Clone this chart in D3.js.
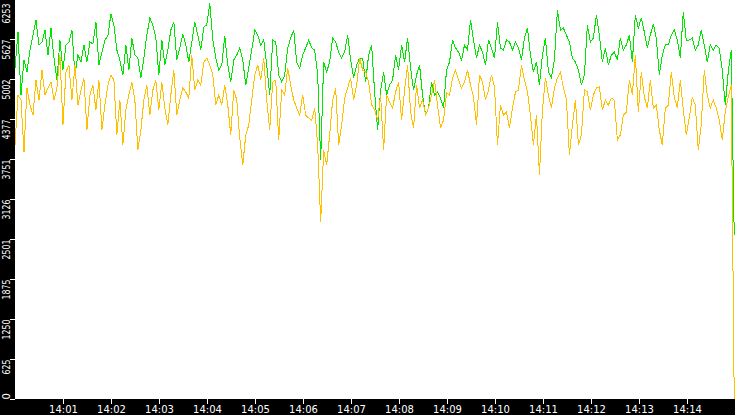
<!DOCTYPE html>
<html>
<head>
<meta charset="utf-8">
<script src="https://cdn.jsdelivr.net/npm/d3@7"></script>
<style>
  body { margin: 0; background: #fff; overflow: hidden; }
  svg { display: block; }
  .axis text { fill: #fff; font-family: "DejaVu Sans", sans-serif; font-size: 10px; }
  .axis line { stroke: #fff; }
  .axis path { display: none; }
</style>
</head>
<body>
<div id="chart"></div>
<script>
// Samples, one every ~3.75 s from 14:00 to 14:15
const green = [
  5174, 5737, 4752, 5299, 5112, 5455, 5690, 5924, 5534, 5581, 5768, 5377, 5799, 5330, 4987, 5612, 5143, 5534, 5581, 5768,
  5065, 5377, 5268, 5534, 5268, 5581, 5549, 5893, 5221, 5424, 5612, 5674, 6018, 5846, 5455, 5299, 5065, 5534, 5143, 5643,
  5377, 5330, 5018, 5330, 5690, 5956, 5846, 5643, 5065, 5612, 5221, 5455, 5768, 5893, 5299, 5487, 5706, 5534, 5268, 5581,
  5893, 5690, 5455, 5815, 5846, 6190, 5612, 5330, 5143, 5221, 5674, 5221, 4955, 5299, 5377, 5487, 5299, 4908, 5174, 5455,
  5768, 5690, 5534, 5612, 5221, 4752, 5612, 5581, 5065, 4955, 5065, 5487, 5643, 5768, 5268, 5174, 5377, 5487, 5612, 5487,
  5455, 5065, 3736, 5268, 5112, 5268, 5643, 5581, 5424, 5330, 5424, 5690, 5299, 5018, 5221, 5330, 5330, 4955, 5377, 5534,
  4799, 4205, 4830, 5112, 4752, 4908, 4987, 5377, 5143, 5534, 5268, 5643, 5174, 4830, 5065, 5221, 4752, 4439, 4549, 4955,
  4752, 4799, 4705, 4549, 5143, 5268, 5612, 5487, 5424, 5299, 5534, 5455, 5924, 5612, 5330, 5534, 5424, 5221, 5612, 5487,
  5330, 5893, 5487, 5455, 5612, 5581, 5455, 5581, 5487, 5299, 5643, 5799, 5377, 5112, 5268, 4908, 5377, 5643, 5112, 5018,
  5299, 6081, 5768, 5799, 5690, 5581, 5330, 5268, 5143, 4908, 5065, 5846, 5581, 5643, 6003, 5690, 5268, 5487, 5221, 5377,
  5424, 5299, 5643, 5455, 5534, 5690, 5268, 6003, 5799, 5956, 5737, 5487, 5690, 5862, 5643, 5065, 5377, 5534, 5534, 5690,
  5768, 5612, 5330, 6049, 5612, 5612, 5643, 5455, 5534, 5768, 5534, 5268, 5534, 5455, 5534, 5487, 5143, 4596, 5112, 5455,
  2564
];

const orange = [
  3971, 4752, 4674, 3861, 4862, 4596, 4439, 4987, 4674, 5143, 4752, 4862, 4955, 4674, 4862, 5377, 4283, 5112, 5221, 4674,
  5221, 4596, 4830, 5018, 4205, 4752, 4908, 4518, 4987, 4205, 4596, 4908, 5065, 4987, 4127, 4674, 3971, 4518, 4752, 4955,
  4674, 3892, 4205, 4674, 4908, 4439, 4830, 4987, 4518, 4955, 4549, 4283, 4752, 5143, 4439, 4674, 4862, 4799, 4705, 5377,
  4830, 4987, 4908, 5268, 5330, 5221, 5065, 4596, 4752, 4596, 4908, 4596, 4127, 4830, 4674, 4080, 3658, 4127, 4283, 4674,
  5065, 5221, 4987, 5330, 4674, 4205, 4955, 4987, 4049, 4830, 4752, 5174, 4908, 4674, 4549, 4439, 4752, 4439, 4393, 4361,
  4549, 3971, 2767, 3892, 3658, 4127, 4674, 4862, 3971, 4283, 4705, 4862, 5018, 4674, 4908, 5330, 5143, 5112, 4955, 4596,
  4518, 4361, 4752, 3892, 4752, 4643, 4549, 4799, 4955, 4361, 4830, 5221, 4486, 4236, 4908, 4549, 4674, 4439, 4549, 4752,
  4987, 4596, 4236, 4361, 4783, 4752, 5018, 5143, 4987, 4862, 4955, 5143, 4908, 4721, 4283, 5065, 4955, 4674, 4830, 5065,
  4877, 3971, 4596, 4439, 4486, 4236, 4549, 4799, 4830, 5221, 4987, 4799, 4439, 3971, 4439, 3502, 4518, 5018, 4752, 4549,
  4862, 5018, 5112, 4862, 4674, 3814, 4283, 4674, 3971, 4127, 4830, 4799, 4518, 4752, 4862, 4877, 4518, 4674, 4596, 4705,
  4674, 4049, 4127, 4439, 4486, 4987, 4752, 5377, 4486, 5112, 4721, 4549, 4987, 4549, 4596, 4205, 3971, 4549, 4596, 5112,
  4721, 4549, 4987, 4518, 4127, 4393, 4721, 4596, 3892, 4283, 5143, 4752, 4549, 4674, 4549, 4361, 4049, 4486, 4721, 4908,
  0
];

// Y tick values (labels are these rounded down)
const yTickValues = [0, 625.3, 1250.6, 1875.9, 2501.2, 3126.5, 3751.8, 4377.1, 5002.4, 5627.7, 6253];

const width = 735, height = 415;
const margin = { left: 15, bottom: 16 };
const start = new Date(2020, 0, 1, 14, 0, 0),
      end = new Date(2020, 0, 1, 14, 15, 0);
const stepMs = 3746;

let svg = d3.select("#chart").append("svg")
    .attr("width", width)
    .attr("height", height);

// Scales
let x = d3.scaleTime()
    .domain([start, end])
    .range([margin.left, width]);

let y = d3.scaleLinear()
    .domain([0, 6253])
    .range([height - margin.bottom, -1]);

// Black axis strips
svg.append("rect")
    .attr("x", 0).attr("y", 0)
    .attr("width", margin.left).attr("height", height)
    .attr("fill", "#000");
svg.append("rect")
    .attr("x", 0).attr("y", height - margin.bottom)
    .attr("width", width).attr("height", margin.bottom)
    .attr("fill", "#000");

// Lines
let line = d3.line()
    .x((d, i) => x(new Date(+start + i * stepMs)))
    .y(d => y(d));

[[green, "#00e600"], [orange, "#ffc000"]].forEach(s => {
  svg.append("path")
      .datum(s[0])
      .attr("fill", "none")
      .attr("stroke", s[1])
      .attr("stroke-width", 1)
      .attr("shape-rendering", "crispEdges")
      .attr("d", line);
});

// x axis
let minutes = d3.timeMinute.range(d3.timeMinute.offset(start, 1), end);
let xAxis = d3.axisBottom(x)
    .tickValues(minutes)
    .tickFormat(d3.timeFormat("%H:%M"))
    .tickSize(5)
    .tickPadding(2);

svg.append("g")
    .attr("class", "axis")
    .attr("transform", "translate(0," + (height - margin.bottom) + ")")
    .call(xAxis);

// y axis, labels rotated
let yAxis = d3.axisLeft(y)
    .tickValues(yTickValues)
    .tickFormat(d => Math.floor(d))
    .tickSize(5);

let yAxisEl = svg.append("g")
    .attr("class", "axis")
    .attr("transform", "translate(" + margin.left + ",0)")
    .call(yAxis);

yAxisEl.selectAll("text")
    .attr("x", null)
    .attr("dy", null)
    .attr("text-anchor", d => d === 0 ? "start" : "end")
    .attr("transform", d => d === 6253 ? "translate(-5,4) rotate(-90)" : "translate(-5,0) rotate(-90)")
    .each(function(d) {
      let n = String(Math.floor(d)).length;
      if (n > 1) d3.select(this).attr("textLength", n * 5).attr("lengthAdjust", "spacingAndGlyphs");
    });
</script>
</body>
</html>
